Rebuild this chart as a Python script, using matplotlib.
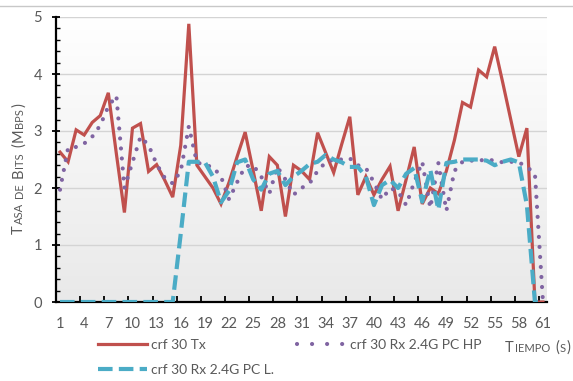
import numpy as np
import matplotlib
matplotlib.use("Agg")
import matplotlib.pyplot as plt
from matplotlib.colors import LinearSegmentedColormap
from matplotlib.lines import Line2D
from matplotlib.transforms import IdentityTransform

plt.rcParams['font.family'] = ['Lato', 'DejaVu Sans']

# ── datos (Mbps por segundo) ──
tiempo = np.arange(1, 62)
tx = [2.63, 2.46, 3.02, 2.93, 3.15, 3.27, 3.67, 2.60, 1.57, 3.05,
      3.13, 2.29, 2.41, 2.14, 1.84, 2.75, 4.88, 2.40, 2.20, 2.00,
      1.72, 2.10, 2.55, 2.98, 2.30, 1.60, 2.55, 2.40, 1.50, 2.40,
      2.30, 2.15, 2.97, 2.62, 2.27, 2.77, 3.25, 1.88, 2.20, 1.88,
      2.15, 2.38, 1.60, 2.15, 2.72, 1.72, 2.00, 1.90, 2.30, 2.84,
      3.50, 3.42, 4.07, 3.95, 4.48, 3.85, 3.20, 2.55, 3.05, 0.00,
      0.00]
rx_hp = [1.97, 2.70, 2.72, 2.78, 2.90, 3.10, 3.43, 3.62, 2.00, 2.45,
         2.90, 2.75, 2.42, 2.18, 2.08, 2.30, 3.08, 2.45, 2.40, 2.37,
         2.20, 1.80, 2.10, 2.38, 2.40, 2.20, 1.90, 2.37, 2.15, 1.88,
         2.00, 2.08, 2.30, 2.45, 2.50, 2.50, 2.52, 2.40, 2.35, 2.10,
         1.80, 2.00, 1.94, 1.70, 2.10, 2.46, 1.65, 2.44, 1.60, 2.30,
         2.46, 2.48, 2.48, 2.50, 2.48, 2.45, 2.46, 2.45, 2.37, 2.25,
         0.00]
rx_l = [0.00, 0.00, 0.00, 0.00, 0.00, 0.00, 0.00, 0.00, 0.00, 0.00,
        0.00, 0.00, 0.00, 0.00, 0.00, 1.20, 2.46, 2.46, 2.45, 2.20,
        1.75, 1.95, 2.45, 2.50, 2.15, 1.97, 2.25, 2.30, 2.05, 2.20,
        2.30, 2.42, 2.46, 2.58, 2.50, 2.45, 2.37, 2.37, 2.20, 1.70,
        2.05, 2.14, 2.00, 2.25, 2.35, 1.76, 2.32, 1.62, 2.44, 2.46,
        2.50, 2.50, 2.50, 2.48, 2.40, 2.46, 2.50, 2.45, 1.70, 0.00,
        0.00]
xticks = list(range(1, 62, 3))

ROJO = '#C0504D'
MORADO = '#8064A2'
CIAN = '#4BACC6'
GRIS = '#595959'
PUNTOS = (0, (0.01, 2.4))
RAYAS = (0, (3.5, 1.5))

W, H = 573, 381
fig = plt.figure(figsize=(W / 100, H / 100), dpi=100)
ax = fig.add_axes([56 / W, 1 - 302 / H, 491 / W, 285 / H])

# fondo degradado del área de trazado
grad = LinearSegmentedColormap.from_list('fondo', ['#e9e9e9', '#ffffff'])
ax.imshow(np.linspace(0, 1, 256).reshape(-1, 1), extent=[0.5, 61.5, 0, 5],
          origin='lower', aspect='auto', cmap=grad, zorder=0)

ax.plot(tiempo, tx, color=ROJO, lw=2.3, zorder=3, solid_joinstyle='miter')
ax.plot(tiempo, rx_hp, color=MORADO, lw=3.0, linestyle=PUNTOS,
        dash_capstyle='round', zorder=4)
ax.plot(tiempo, rx_l, color=CIAN, lw=3.0, linestyle=RAYAS,
        dash_capstyle='butt', zorder=5)

ax.set_xlim(0.5, 61.5)
ax.set_ylim(0, 5)
ax.set_yticks(range(0, 6))
ax.set_yticks(np.arange(0, 5.01, 0.2), minor=True)
ax.set_xticks(xticks)
ax.set_xticks([x - 0.5 for x in xticks], minor=True)
ax.grid(axis='y', color='#d4d4d4', lw=1.0, zorder=1)
ax.set_axisbelow(True)

for s in ['top', 'right']:
    ax.spines[s].set_visible(False)
for s in ['left', 'bottom']:
    ax.spines[s].set_color('black')
    ax.spines[s].set_linewidth(1.6)

ax.tick_params(axis='y', which='major', direction='inout', length=6, width=1.3,
               pad=7, labelsize=10.5, labelcolor=GRIS)
ax.tick_params(axis='y', which='minor', direction='in', length=3, width=1.0)
ax.tick_params(axis='x', which='major', length=0, pad=11, labelsize=10.5,
               labelcolor=GRIS)
ax.tick_params(axis='x', which='minor', direction='in', length=4, width=1.3)

# línea de la página sobre el gráfico
fig.add_artist(Line2D([0, 1], [1 - 6 / H, 1 - 6 / H], color='#c8c8c8', lw=1.0))

# leyenda en dos filas debajo del eje
h_tx = Line2D([], [], color=ROJO, lw=2.3)
h_hp = Line2D([], [], color=MORADO, lw=3.0, linestyle=(0, (0.01, 3.6)),
              dash_capstyle='round')
h_l = Line2D([], [], color=CIAN, lw=3.0, linestyle=RAYAS)
leg = fig.legend([h_tx, h_l, h_hp],
                 ['crf 30 Tx', 'crf 30 Rx 2.4G PC L.', 'crf 30 Rx 2.4G PC HP'],
                 ncol=2, frameon=False, loc='upper left',
                 bbox_to_anchor=(98 / W, 1 - 339 / H), bbox_transform=fig.transFigure,
                 fontsize=10, handlelength=3.5, handletextpad=0.3,
                 columnspacing=1.7, labelspacing=0.9, borderpad=0, borderaxespad=0)
for t in leg.get_texts():
    t.set_color(GRIS)


def versalitas(x, y, trozos, vertical=False):
    """Escribe texto en versalitas juntando trozos de distinto tamaño."""
    r = fig.canvas.get_renderer()
    pos = 0.0
    for txt, size in trozos:
        if txt == ' ':
            pos += size * 0.3 * 100 / 72
            continue
        kw = dict(fontsize=size, color=GRIS, transform=IdentityTransform(),
                  rotation=90 if vertical else 0, rotation_mode='anchor',
                  ha='left', va='baseline')
        if vertical:
            t = fig.text(x, y + pos, txt, **kw)
            pos += t.get_window_extent(r).height
        else:
            t = fig.text(x + pos, y, txt, **kw)
            pos += t.get_window_extent(r).width
        pos += 0.8


G, P = 10.5, 8.0
versalitas(23, H - 234, [('T', G), ('ASA', P), (' ', G), ('DE', P), (' ', G),
                         ('B', G), ('ITS', P), (' ', G), ('(', G), ('M', G),
                         ('BPS', P), (')', G)], vertical=True)
versalitas(505, H - 352, [('T', G), ('IEMPO', P), (' ', G), ('(', G), ('S', P),
                          (')', G)])

fig.savefig('out.png', dpi=100)
